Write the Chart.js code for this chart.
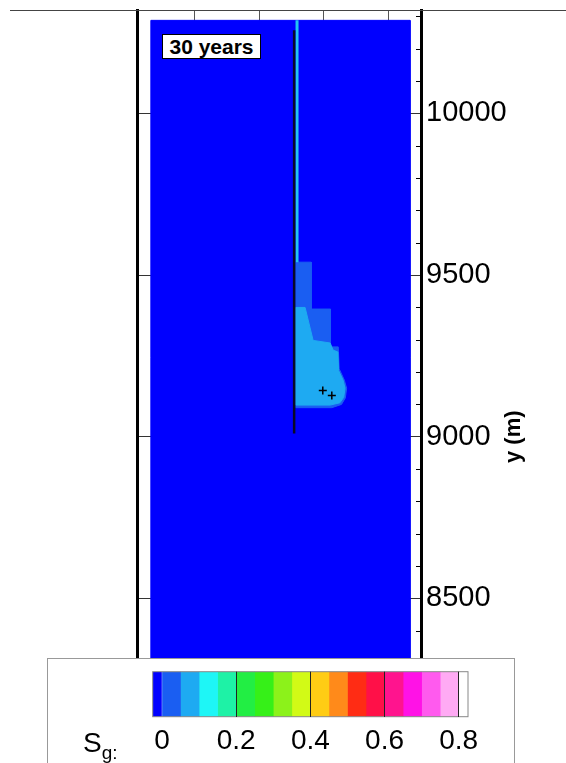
<!DOCTYPE html>
<html>
<head>
<meta charset="utf-8">
<script src="https://cdn.jsdelivr.net/npm/chart.js@4.4.1/dist/chart.umd.min.js"></script>
<style>
  html, body { margin: 0; padding: 0; background: #fff; }
  body { width: 566px; height: 763px; position: relative; overflow: hidden;
         font-family: "Liberation Sans", Arial, sans-serif; }
  #main { position: absolute; left: 0; top: 0; }
  #topline { position: absolute; left: 10px; top: 10px; width: 556px; border-top: 1px solid #444; }
  #tag { position: absolute; left: 162px; top: 34px; width: 97px; height: 23px; background: #fff;
         border: 1px solid #000; font-weight: bold; font-size: 21px; line-height: 23px; text-align: center; }
  #legend { position: absolute; left: 47px; top: 658px; width: 466px; height: 120px;
            background: #fff; border: 1px solid #999; }
  #bar { position: absolute; left: 0; top: 658px; }
  #sg { position: absolute; left: 83px; top: 729px; font-size: 28px; line-height: 28px; color: #000; }
  #sg span { font-size: 19px; position: relative; top: 7px; }
</style>
</head>
<body>
<canvas id="main" width="566" height="763"></canvas>
<div id="topline"></div>
<div id="tag">30 years</div>
<div id="legend"></div>
<canvas id="bar" width="566" height="105"></canvas>
<div id="sg">S<span>g:</span></div>
<script>
// y axis (m)
const yTicks = [8500, 9000, 9500, 10000];
const yMinor = [8300, 8400, 8600, 8700, 8800, 8900, 9100, 9200, 9300, 9400, 9600, 9700, 9800, 9900, 10100, 10200, 10300];
const xGrid = [200, 400, 600, 800];
const yTitle = 'y (m)';

// model domain (Sg = 0 background)
const fieldX = [63, 868, 868, 63, 63];
const fieldY = [10288, 10288, 8200, 8200, 10288];

// gas plume, Sg 0 - 0.05
const outerX = [513, 561, 561, 621, 621, 645, 648, 664, 671, 667, 655, 625, 513, 513];
const outerY = [9540, 9540, 9395, 9395, 9278, 9278, 9210, 9175, 9150, 9120, 9100, 9090, 9090, 9540];
// gas plume, Sg 0.05 - 0.1
const innerX = [513, 542, 567, 620, 629, 644, 646, 660, 666, 662, 650, 620, 513, 513];
const innerY = [9400, 9400, 9298, 9290, 9268, 9262, 9205, 9175, 9150, 9122, 9105, 9098, 9098, 9400];

// gas rising along the well
const stripX = [517, 517];
const stripY = [10288, 9540];
// well
const wellX = [508, 508];
const wellY = [10257, 9010];
// injection points
const injX = [597, 625];
const injY = [9143, 9128];

// colour bar
const sgLevels = [-0.025, 0, 0.05, 0.1, 0.15, 0.2, 0.25, 0.3, 0.35, 0.4, 0.45, 0.5, 0.55, 0.6, 0.65, 0.7, 0.75, 0.8, 0.825];
const sgColors = ['#0000ff', '#1a5ef2', '#1eaaf2', '#1ef6f6', '#1ef2a6', '#22ee44', '#36f018', '#8cf21a', '#d2fa16',
                  '#ffcc14', '#ff8a1a', '#ff2c14', '#ff1048', '#ff148e', '#ff12e6', '#ff5aee', '#ffaaf4', '#ffffff'];
const sgTicks = [0, 0.2, 0.4, 0.6, 0.8];

const FONT = '"Liberation Sans", Arial, sans-serif';
Chart.defaults.font.family = FONT;
Chart.defaults.color = '#000';

const pts = (xs, ys) => xs.map((x, i) => ({ x, y: ys[i] }));
const area = (xs, ys, color, order) => ({
  data: pts(xs, ys), fill: 'shape', backgroundColor: color, borderColor: color,
  borderWidth: 1, pointRadius: 0, tension: 0, order
});

const extras = {
  id: 'extras',
  afterDraw(chart) {
    const { ctx, chartArea } = chart;
    const y = chart.scales.y;
    ctx.save();
    ctx.strokeStyle = '#000';
    ctx.lineWidth = 1;
    yMinor.forEach(v => {
      const py = Math.round(y.getPixelForValue(v)) + 0.5;
      ctx.beginPath();
      ctx.moveTo(chartArea.right - 5, py);
      ctx.lineTo(chartArea.right, py);
      ctx.stroke();
    });
    ctx.translate(chartArea.right + 93, y.getPixelForValue(9000));
    ctx.rotate(-Math.PI / 2);
    ctx.font = 'bold 22px ' + FONT;
    ctx.textAlign = 'center';
    ctx.textBaseline = 'middle';
    ctx.fillText(yTitle, 0, 0);
    ctx.restore();
  }
};

new Chart(document.getElementById('main'), {
  type: 'line',
  data: {
    datasets: [
      area(fieldX, fieldY, '#0000ff', 6),
      area(outerX, outerY, '#1a5ef2', 5),
      area(innerX, innerY, '#1eaaf2', 4),
      { data: pts(stripX, stripY), borderColor: '#22c4f2', borderWidth: 3, pointRadius: 0, order: 3 },
      { data: pts(wellX, wellY), borderColor: '#0a0a28', borderWidth: 2.5, pointRadius: 0, order: 2 },
      { data: pts(injX, injY), showLine: false, pointStyle: 'cross', pointRadius: 4,
        pointBorderWidth: 1.5, pointBorderColor: '#000', order: 1 }
    ]
  },
  options: {
    responsive: false,
    animation: false,
    events: [],
    layout: { padding: { left: 137, top: 10, right: 0, bottom: 0 } },
    plugins: { legend: { display: false }, tooltip: { enabled: false } },
    scales: {
      x: {
        type: 'linear', min: 20, max: 902,
        afterBuildTicks: s => { s.ticks = xGrid.map(v => ({ value: v })); },
        ticks: { display: false },
        grid: { color: '#555', lineWidth: 1, drawTicks: false },
        border: { display: false },
        afterFit: s => { s.height = 67.6; s.paddingLeft = 0; s.paddingRight = 0; }
      },
      y: {
        position: 'right', min: 8200, max: 10320,
        afterBuildTicks: s => { s.ticks = yTicks.map(v => ({ value: v })); },
        ticks: { font: { size: 29 }, color: '#000', padding: 5, callback: v => String(v) },
        grid: { color: '#333', lineWidth: 1, drawTicks: false },
        border: { color: '#000', width: 3 },
        afterFit: s => { s.width = 145; s.paddingTop = 0; s.paddingBottom = 0; }
      },
      yL: {
        position: 'left',
        ticks: { display: false },
        grid: { display: false, drawTicks: false },
        border: { color: '#000', width: 3 },
        afterFit: s => { s.width = 0; s.paddingTop = 0; s.paddingBottom = 0; }
      }
    }
  },
  plugins: [extras]
});

// colour bar
const outline = {
  id: 'outline',
  afterDatasetsDraw(chart) {
    const { ctx, chartArea: a } = chart;
    ctx.save();
    ctx.strokeStyle = '#888';
    ctx.lineWidth = 1;
    ctx.strokeRect(a.left, a.top, a.right - a.left, a.bottom - a.top);
    ctx.restore();
  }
};

new Chart(document.getElementById('bar'), {
  type: 'bar',
  data: {
    labels: ['Sg'],
    datasets: sgColors.map((c, i) => ({
      data: [[sgLevels[i], sgLevels[i + 1]]],
      backgroundColor: c, borderWidth: 0,
      barPercentage: 1, categoryPercentage: 1, grouped: false
    }))
  },
  options: {
    indexAxis: 'y',
    responsive: false,
    animation: false,
    events: [],
    layout: { padding: { left: 152.7, right: 98, top: 13.7, bottom: 0 } },
    plugins: { legend: { display: false }, tooltip: { enabled: false } },
    scales: {
      x: {
        type: 'linear', min: -0.025, max: 0.825,
        afterBuildTicks: s => { s.ticks = sgTicks.map(v => ({ value: v })); },
        ticks: { font: { size: 28 }, color: '#000', padding: 8, maxRotation: 0, callback: v => String(v) },
        grid: { z: 1, color: ctx => (ctx.tick && ctx.tick.value === 0 ? 'rgba(0,0,0,0)' : '#222'), lineWidth: 1, drawTicks: false },
        border: { display: false },
        afterFit: s => { s.height = 46.3; s.paddingLeft = 0; s.paddingRight = 0; }
      },
      y: { display: false }
    }
  },
  plugins: [outline]
});
</script>
</body>
</html>
